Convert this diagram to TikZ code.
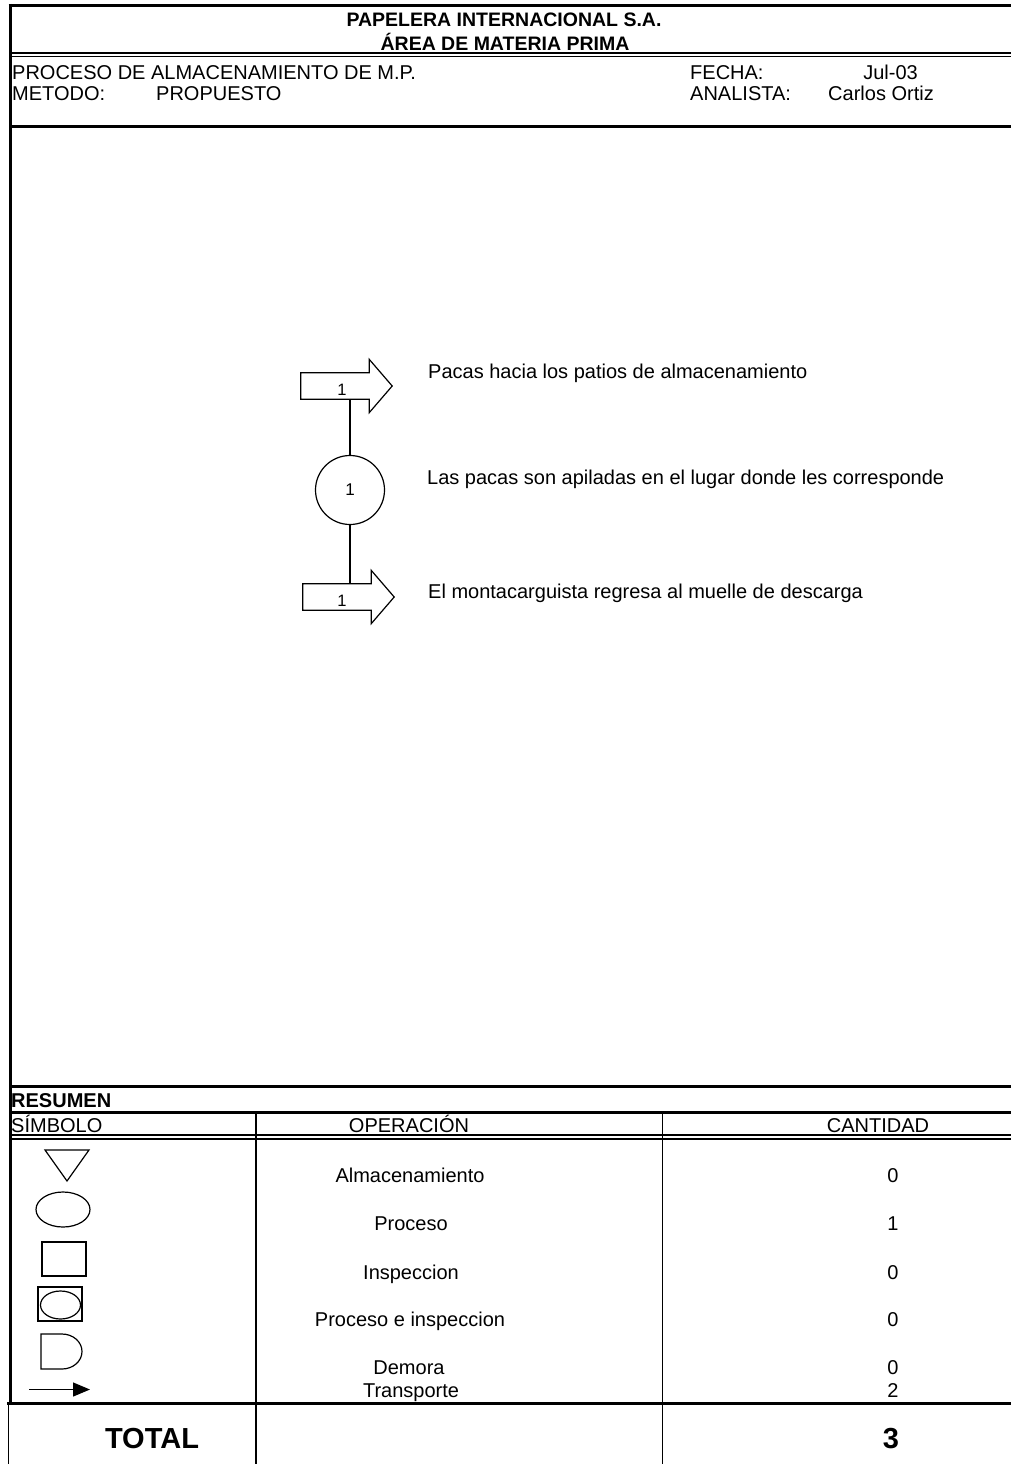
\documentclass[tikz,border=0pt]{standalone}
\usepackage{fontspec}
\setmainfont{Liberation Sans}
\usetikzlibrary{arrows.meta}

\tikzset{
  txt/.style={font=\fontsize{20}{24}\selectfont, inner sep=0pt},
  boldtxt/.style={font=\fontsize{19.5}{24}\selectfont\bfseries, inner sep=0pt},
  bigtxt/.style={font=\fontsize{29}{34}\selectfont\bfseries, inner sep=0pt},
  thickrule/.style={line width=3pt},
  heavyrule/.style={line width=2pt},
  thinrule/.style={line width=1.3pt},
  colrule/.style={line width=1.5pt},
  shapeline/.style={line width=1.2pt},
  tbody/.style={draw=none, minimum width=68pt, minimum height=26pt, inner sep=0pt},
  opcircle/.style={draw, circle, line width=1.2pt, minimum size=69pt, inner sep=0pt,
                   font=\fontsize{17}{20}\selectfont},
  tlabel/.style={font=\fontsize{16.5}{19}\selectfont, inner sep=0pt, anchor=base},
}

% outline of a transport arrow around its body node
\newcommand{\transportoutline}[1]{%
  \draw[shapeline] (#1.north east) -- ([yshift=13.5pt]#1.north east)
    -- ([xshift=23pt]#1.east) -- ([yshift=-13.5pt]#1.south east)
    -- (#1.south east) -- (#1.south west) -- (#1.north west) -- cycle;}

\begin{document}
\begin{tikzpicture}[x=1pt, y=-1pt]
\useasboundingbox (0,0) rectangle (1010,1464);

% ---------- header frame ----------
\draw[thickrule] (8.5,5.5) -- (1012,5.5);
\draw[heavyrule] (10,52.7) -- (1012,52.7);
\draw[thinrule] (10,56.7) -- (1012,56.7);
\draw[thickrule] (10,126.5) -- (1012,126.5);
\draw[thickrule] (10,4) -- (10,1404.5);

\node[boldtxt, anchor=base] (title1) at (504,27) {PAPELERA INTERNACIONAL S.A.};
\node[boldtxt, anchor=base] (title2) at (505,51) {ÁREA DE MATERIA PRIMA};

\node[txt, anchor=base west] (proc) at (12,79) {PROCESO DE ALMACENAMIENTO DE M.P.};
\node[txt, anchor=base west] (met) at (12,100) {METODO:};
\node[txt, anchor=base west] (prop) at (156,100) {PROPUESTO};
\node[txt, anchor=base west] (fecha) at (690,79) {FECHA:};
\node[txt, anchor=base east] (fechav) at (918,79) {Jul-03};
\node[txt, anchor=base west] (anal) at (690,100) {ANALISTA:};
\node[txt, anchor=base east] (analv) at (934,100) {Carlos Ortiz};

% ---------- flow chart ----------
\node[tbody] (t1) at (335,386) {};
\transportoutline{t1}
\node[tlabel] (t1n) at (342,395) {1};

\node[opcircle] (op1) at (350,490) {1};

\node[tbody] (t2) at (337,597) {};
\transportoutline{t2}
\node[tlabel] (t2n) at (342,606) {1};

\draw[shapeline] (t1.south -| op1) -- (op1.north);
\draw[shapeline] (op1.south) -- (op1.south |- t2.north);

\node[txt, anchor=base west] (d1) at (428,378) {Pacas hacia los patios de almacenamiento};
\node[txt, anchor=base west] (d2) at (427,484) {Las pacas son apiladas en el lugar donde les corresponde};
\node[txt, anchor=base west] (d3) at (428,598) {El montacarguista regresa al muelle de descarga};

% ---------- summary table ----------
\draw[thickrule] (10,1086.5) -- (1012,1086.5);
\draw[thickrule] (10,1112) -- (1012,1112);
\draw[heavyrule] (10,1135) -- (1012,1135);
\draw[thinrule] (10,1139) -- (1012,1139);
\draw[colrule] (256,1112) -- (256,1466);
\draw[line width=1.8pt] (662.5,1112) -- (662.5,1466);
\draw[thickrule] (7,1403) -- (1012,1403);
\draw[colrule] (8.5,1403) -- (8.5,1466);

\node[boldtxt, font=\fontsize{20}{24}\selectfont\bfseries, anchor=base west] (res) at (11,1107) {RESUMEN};
\node[txt, anchor=base west] (hsim) at (11,1132) {SÍMBOLO};
\node[txt, anchor=base] (hop) at (409,1132) {OPERACIÓN};
\node[txt, anchor=base] (hcant) at (878,1132) {CANTIDAD};

% symbols
\draw[shapeline] (45,1150) -- (89,1150) -- (67,1181) -- cycle;
\draw[shapeline] (63,1209.5) ellipse [x radius=27, y radius=17.5];
\draw[shapeline] (42,1242) rectangle (86,1276);
\draw[shapeline] (38,1287) rectangle (82,1321);
\draw[shapeline] (60.5,1305) ellipse [x radius=20, y radius=14];
\draw[shapeline] (41,1334) -- (62,1334)
  arc[start angle=-90, end angle=90, x radius=20, y radius=17.5]
  -- (41,1369) -- cycle;
\draw[shapeline, -{Triangle[length=17pt, width=14pt]}] (29,1389.5) -- (90,1389.5);

% rows
\node[txt, anchor=base] (r1) at (410,1182) {Almacenamiento};
\node[txt, anchor=base] (r2) at (411,1230) {Proceso};
\node[txt, anchor=base] (r3) at (411,1279) {Inspeccion};
\node[txt, anchor=base] (r4) at (410,1326) {Proceso e inspeccion};
\node[txt, anchor=base] (r5) at (409,1374) {Demora};
\node[txt, anchor=base] (r6) at (411,1397) {Transporte};

\node[txt, anchor=base] (c1) at (893,1182) {0};
\node[txt, anchor=base] (c2) at (893,1230) {1};
\node[txt, anchor=base] (c3) at (893,1279) {0};
\node[txt, anchor=base] (c4) at (893,1326) {0};
\node[txt, anchor=base] (c5) at (893,1374) {0};
\node[txt, anchor=base] (c6) at (893,1397) {2};

\node[bigtxt, anchor=base] (tot) at (152,1448) {TOTAL};
\node[bigtxt, anchor=base] (totv) at (891,1448) {3};
\end{tikzpicture}
\end{document}
